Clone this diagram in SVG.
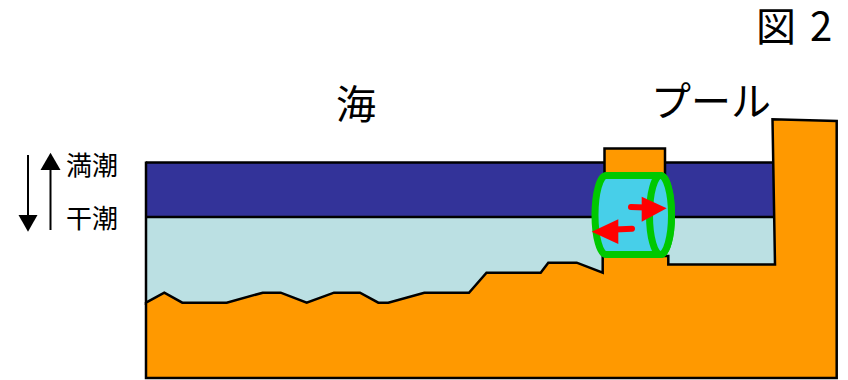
<svg xmlns="http://www.w3.org/2000/svg" width="848" height="380" viewBox="0 0 848 380">
  <style>
    .jp { font-family: "Noto Sans CJK JP", "Noto Sans", sans-serif; fill: #000; }
    .edge { stroke: #000; stroke-width: 2.5; stroke-linejoin: miter; }
    .ground { fill: #FF9900; }
    .pipe { fill: #47CFE9; stroke: #00C800; stroke-width: 7; }
    .flow { fill: #FF0000; }
    .shaft { stroke: #000; stroke-width: 2; }
  </style>

  <rect width="848" height="380" fill="#fff"/>

  <!-- figure number -->
  <text class="jp" x="756" y="41" font-size="40">図</text>
  <text class="jp" x="810" y="41" font-size="40">2</text>

  <!-- labels -->
  <text class="jp" x="356" y="119" font-size="40" text-anchor="middle">海</text>
  <text class="jp" x="711" y="116" font-size="40" text-anchor="middle">プール</text>

  <!-- tide indicator -->
  <g id="tide">
    <line class="shaft" x1="28" y1="155" x2="28" y2="217"/>
    <path d="M18.5,215 L37.5,215 L28,231.7 Z" fill="#000"/>
    <line class="shaft" x1="50.5" y1="230" x2="50.5" y2="168"/>
    <path d="M40.5,170 L60.5,170 L50.5,152.7 Z" fill="#000"/>
    <text class="jp" x="66" y="175" font-size="26">満潮</text>
    <text class="jp" x="66" y="228" font-size="26">干潮</text>
  </g>

  <!-- water: high-tide band and low-tide body -->
  <g id="water">
    <rect x="146" y="217" width="629" height="90" fill="#BBE0E3"/>
    <rect x="146" y="162.5" width="629" height="54.5" fill="#333399"/>
    <line class="edge" x1="146" y1="162.5" x2="775" y2="162.5"/>
    <line class="edge" x1="146" y1="217" x2="775" y2="217"/>
    <line class="edge" x1="146" y1="161.5" x2="146" y2="305"/>
  </g>

  <!-- sea floor, pool basin and pool wall -->
  <g id="ground">
    <path class="ground edge" d="M146,302.7 L164.3,292.7 L182.3,302.7 L226.7,302.7 L262.7,292.7 L280.7,292.7 L306.7,302.7 L334,292.7 L360,292.7 L378.3,302.7 L388.3,302.7 L424.3,292.7 L469,292.7 L486.5,272.7 L540.7,272.7 L548.3,262.7 L576.7,262.7 L602.7,272.7 L602.7,256 L668.3,256 L668.3,264.5 L775,264.5 L772.5,119.3 L836.7,121 L836.7,378 L146,378 Z"/>
  </g>

  <!-- sluice block above the conduit -->
  <g id="block">
    <rect class="ground edge" x="604.5" y="148.5" width="60.5" height="50"/>
  </g>

  <!-- conduit between sea and pool -->
  <g id="conduit">
    <path class="pipe" d="M606,175.5 L660.5,175.5 A11,39.5 0 0 1 660.5,254.5 L606,254.5 A11,39.5 0 0 1 606,175.5 Z"/>
    <ellipse class="pipe" cx="660.5" cy="215" rx="11" ry="39.5"/>
  </g>

  <!-- flow arrows -->
  <g id="flow">
    <line x1="631" y1="207" x2="645" y2="207.5" stroke="#FF0000" stroke-width="6" stroke-linecap="round"/>
    <path class="flow" d="M641.7,196.7 L666.7,208.3 L641.7,221.7 Z"/>
    <line x1="632" y1="228.7" x2="615" y2="229.5" stroke="#FF0000" stroke-width="6" stroke-linecap="round"/>
    <path class="flow" d="M618.3,219.3 L591.7,231.7 L618.3,244 Z"/>
  </g>
</svg>
